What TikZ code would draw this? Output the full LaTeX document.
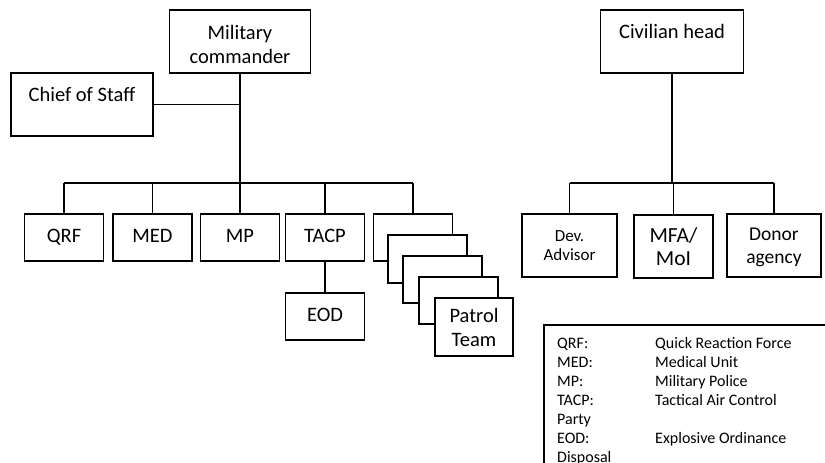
\documentclass[tikz,border=0pt]{standalone}
\usepackage{fontspec}
\setmainfont{Carlito}
\begin{document}
\begin{tikzpicture}[x=1pt,y=-1pt,
  box/.style={draw,fill=white,line width=1.6pt,inner sep=0pt,align=center,
    font=\fontsize{20.5}{24}\selectfont},
  conn/.style={line width=1.6pt},
  legtext/.style={anchor=base west,inner sep=0pt,font=\fontsize{16}{19}\selectfont}]
\useasboundingbox (0,0) rectangle (825,463);
\clip (0,0) rectangle (825,463);
% military side
\node[box,minimum width=141pt,minimum height=63pt] (mc) at (240,41.5) {\rule{0pt}{21pt}Military\\commander};
\node[box,minimum width=142pt,minimum height=63pt] (cos) at (82,104.5) {Chief of Staff\\[-10pt]\strut};
\coordinate (bus) at (0,183);
\node[box,minimum width=79pt,minimum height=47pt] (qrf) at (64,237.5) {\strut QRF};
\node[box,minimum width=79pt,minimum height=47pt] (med) at (152.5,237.5) {\strut MED};
\node[box,minimum width=79pt,minimum height=47pt] (mp) at (240,237.5) {\strut MP};
\node[box,minimum width=79pt,minimum height=47pt] (tacp) at (325,237.5) {\strut TACP};
\node[box,minimum width=79pt,minimum height=47pt] (eod) at (325,316.5) {\strut EOD};
\node[box,minimum width=79pt,minimum height=47pt] (s1) at (413,237.5) {};
\node[box,minimum width=79pt,minimum height=48pt] (s2) at (427.5,259) {};
\node[box,minimum width=79pt,minimum height=47pt] (s3) at (442.5,279.5) {};
\node[box,minimum width=79pt,minimum height=47pt] (s4) at (458.5,300.5) {};
\node[box,minimum width=78pt,minimum height=58pt] (s5) at (474,327) {Patrol\\Team};
\draw[conn] (mc.south) -- (mc.south |- bus);
\draw[conn] (cos.east) -- (cos.east -| mc.south);
\draw[conn] (qrf.north |- bus) -- (s1.north |- bus);
\foreach \n in {qrf,med,mp,tacp,s1}{\draw[conn] (\n.north) -- (\n.north |- bus);}
\draw[conn] (tacp.south) -- (eod.north);
% civilian side
\node[box,minimum width=143pt,minimum height=63pt] (ch) at (672,41.5) {Civilian head\\[-10pt]\strut};
\node[box,minimum width=95pt,minimum height=63pt,font=\fontsize{17}{19}\selectfont] (dev) at (569.5,245.5) {Dev.\\Advisor};
\node[box,minimum width=79pt,minimum height=63pt,font=\fontsize{21.5}{23}\selectfont] (mfa) at (673.5,246.5) {MFA/\\MoI};
\node[box,minimum width=94pt,minimum height=63pt,font=\fontsize{19.5}{23}\selectfont] (don) at (774,245.5) {\strut Donor\\agency};
\draw[conn] (ch.south) -- (ch.south |- bus);
\draw[conn] (dev.north |- bus) -- (don.north |- bus);
\foreach \n in {dev,mfa,don}{\draw[conn] (\n.north) -- (\n.north |- bus);}
% legend
\node[draw,line width=1.6pt,minimum width=400pt,minimum height=200pt,anchor=north west] (leg) at (543,324) {};
\foreach \a/\b [count=\i from 0] in {QRF:/Quick Reaction Force,MED:/Medical Unit,MP:/Military Police,TACP:/Tactical Air Control,Party/,EOD:/Explosive Ordinance,Disposal/}{
  \node[legtext] (la\i) at (557,348+19*\i) {\a};
  \node[legtext] (lb\i) at (655,348+19*\i) {\b};
}
\end{tikzpicture}
\end{document}
